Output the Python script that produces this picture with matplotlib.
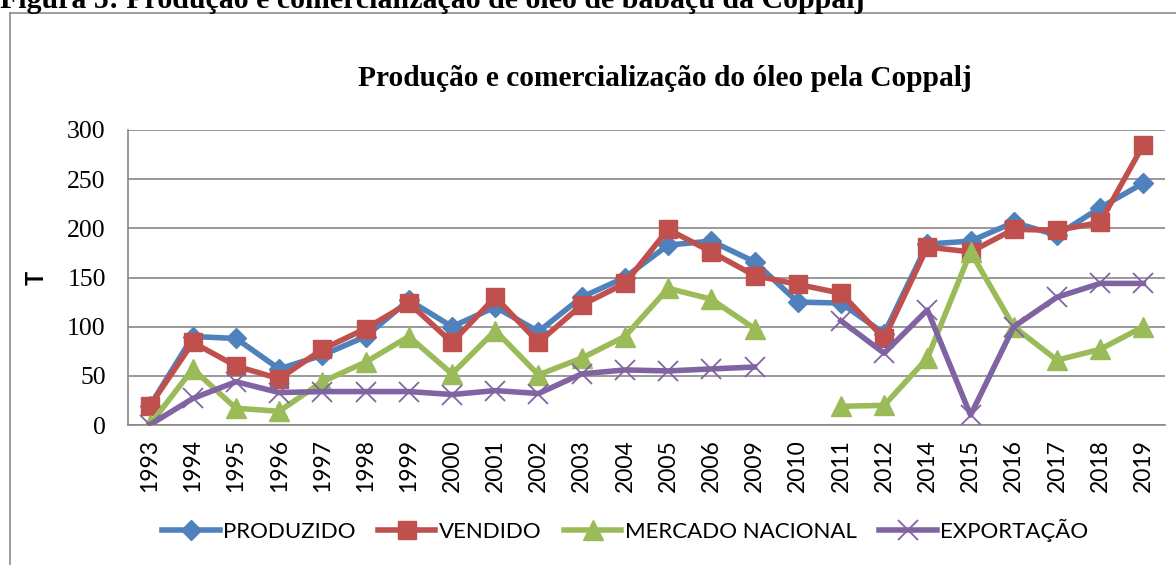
import numpy as np
import matplotlib.pyplot as plt
from matplotlib.lines import Line2D

nan = np.nan

anos = ['1993', '1994', '1995', '1996', '1997', '1998', '1999', '2000', '2001',
        '2002', '2003', '2004', '2005', '2006', '2009', '2010', '2011', '2012',
        '2014', '2015', '2016', '2017', '2018', '2019']

produzido = [19, 90, 88, 57, 71, 90, 127, 100, 120, 95, 130, 150, 183, 187,
             166, 125, 124, 93, 184, 187, 206, 193, 221, 246]
vendido = [19, 84, 60, 47, 77, 98, 124, 84, 130, 84, 122, 144, 199, 176,
           152, 143, 134, 88, 181, 176, 199, 198, 206, 285]
mercado_nacional = [0, 57, 17, 14, 44, 64, 90, 52, 96, 51, 68, 90, 139, 128,
                    98, nan, 19, 20, 68, 176, 100, 66, 77, 100]
exportacao = [0, 27, 44, 33, 34, 34, 34, 31, 35, 32, 52, 56, 55, 57,
              59, nan, 106, 73, 117, 10, 100, 130, 144, 144]

W, H = 1176, 565
fig = plt.figure(figsize=(W / 100, H / 100), dpi=100)
ax = fig.add_axes([128 / W, 1 - 425 / H, (1165 - 128) / W, (425 - 130) / H])

x = np.arange(len(anos))
grid_col = '#878787'

# series, drawn in the same order as the original so red sits on blue
ax.plot(x, produzido, color='#4F81BD', lw=4, marker='D', ms=10,
        label='PRODUZIDO', zorder=3)
ax.plot(x, vendido, color='#C0504D', lw=4, marker='s', ms=13,
        label='VENDIDO', zorder=4)
ax.plot(x, mercado_nacional, color='#9BBB59', lw=4, marker='^', ms=14,
        label='MERCADO NACIONAL', zorder=5)
ax.plot(x, exportacao, color='#8064A2', lw=4, marker='x', ms=14, mew=1.3,
        label='EXPORTAÇÃO', zorder=6)

ax.set_xlim(-0.5, len(anos) - 0.5)
ax.set_ylim(0, 300)
ax.set_yticks(range(0, 301, 50))
ax.set_xticks(x)
ax.set_xticklabels(anos, rotation=90, family='Lato', fontsize=16.5)
for lab in ax.get_yticklabels():
    lab.set_family('Liberation Serif')
    lab.set_fontsize(18.5)
ax.tick_params(axis='y', length=0, pad=16)
ax.tick_params(axis='x', length=0, pad=10)

ax.grid(axis='y', color=grid_col, lw=1.2)
ax.set_axisbelow(True)
for s in ['top', 'right']:
    ax.spines[s].set_visible(False)
for s in ['left', 'bottom']:
    ax.spines[s].set_color(grid_col)
    ax.spines[s].set_linewidth(1.2)

fig.text(36 / W, 1 - 278 / H, 'T', rotation=90, ha='center', va='center',
         family='Lato', fontweight='bold', fontsize=17)

fig.text(665 / W, 1 - 79 / H, 'Produção e comercialização do óleo pela Coppalj',
         ha='center', va='center', family='Liberation Serif',
         fontweight='bold', fontsize=21.2)

# heading of the figure, cut by the top edge as in the source page
fig.text(0, 1 - 8 / H,
         'Figura 5: Produção e comercialização de óleo de babaçu da Coppalj',
         ha='left', va='baseline', family='Liberation Serif',
         fontweight='bold', fontsize=21.5)

# chart frame
fig.add_artist(Line2D([10 / W, 10 / W], [0, 1 - 13 / H], color='#8c8c8c',
                      lw=1.2, transform=fig.transFigure))
fig.add_artist(Line2D([10 / W, 1], [1 - 13 / H, 1 - 13 / H], color='#8c8c8c',
                      lw=1.2, transform=fig.transFigure))

fig.legend(loc='center', bbox_to_anchor=(625 / W, 1 - 530 / H), ncol=4,
           frameon=False, prop={'family': 'Lato', 'size': 16},
           handlelength=2.6, handletextpad=0.15, columnspacing=1.0,
           numpoints=1)

fig.savefig('out.png', dpi=100)
